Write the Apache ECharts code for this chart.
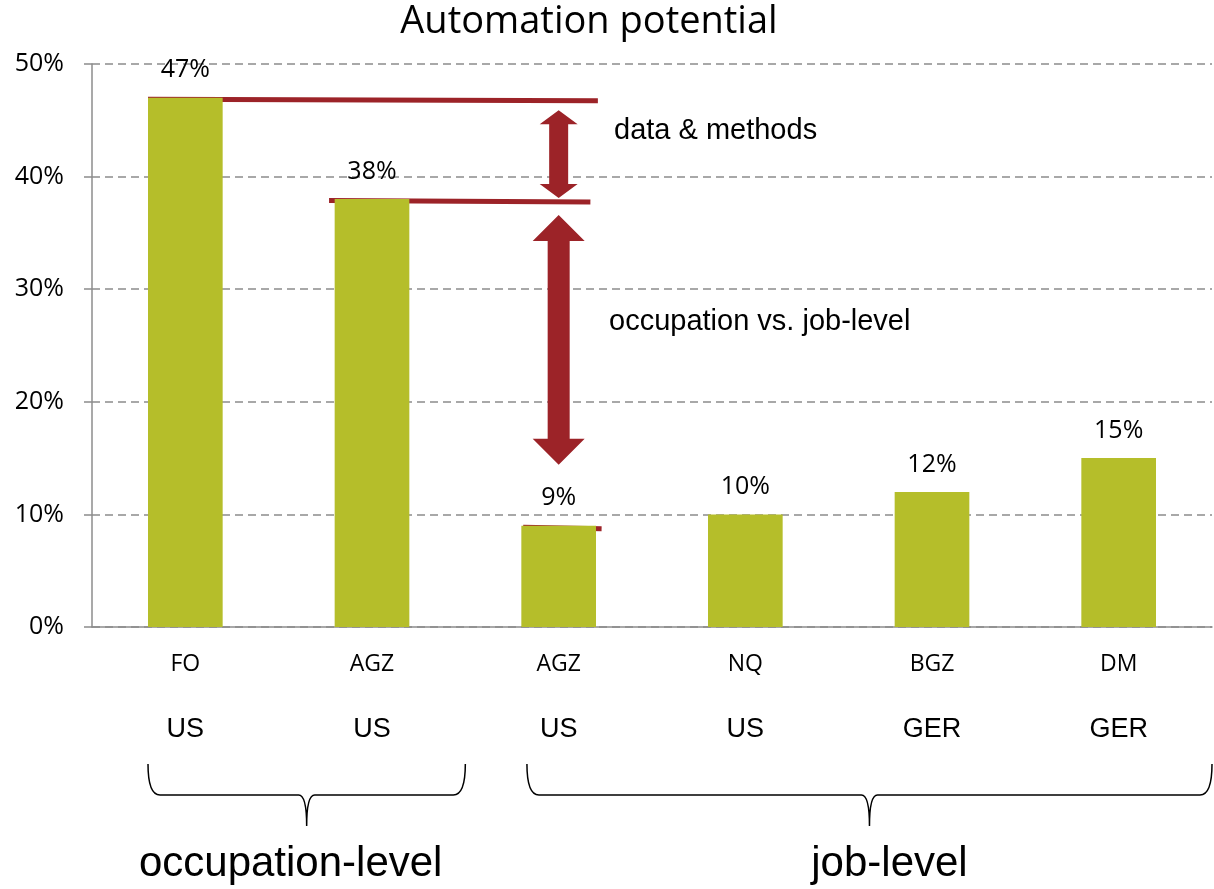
<!DOCTYPE html>
<html>
<head>
<meta charset="utf-8">
<script src="https://cdn.jsdelivr.net/npm/echarts@6/dist/echarts.min.js"></script>
<style>
  html, body { margin: 0; padding: 0; background: #fff; }
  #chart { width: 1214px; height: 889px; }
</style>
</head>
<body>
<div id="chart"></div>
<script>
// data
const codes = ["FO", "AGZ", "AGZ", "NQ", "BGZ", "DM"];
const countries = ["US", "US", "US", "US", "GER", "GER"];
const values = [47, 38, 9, 10, 12, 15];
const yTicks = [0, 10, 20, 30, 40, 50];

// annotations (x on a hidden 0..6 axis, y in %)
const refLines = [[0.3, 2.71, values[0]], [1.27, 2.67, values[1]], [2.31, 2.73, values[2]]];
const arrows = [[2.5, 45.9, 38.1], [2.5, 36.6, 14.4]];
const braces = [[0.3, 2.0, "occupation-level"], [2.33, 6.0, "job-level"]];

const RED = "#9c2328";
const OLIVE = "#b5be2a";
const arrowSize = [
  { head: 14, headHalf: 19, shaft: 9.5 },
  { head: 26, headHalf: 26, shaft: 11 }
];
const braceTextShift = [-16, 20];

const chart = echarts.init(document.getElementById("chart"));

chart.setOption({
  animation: false,
  title: {
    text: "Automation potential",
    left: 584,
    top: -2,
    textAlign: "center",
    textStyle: { fontFamily: "Open Sans", fontSize: 38, fontWeight: "normal", color: "#000" }
  },
  grid: { left: 92, right: 2, top: 64, bottom: 262 },
  xAxis: [
    {
      type: "category",
      data: codes.map((c, i) => c + "\n" + countries[i]),
      axisLine: { lineStyle: { color: "#8c8c8c", width: 1.5 } },
      axisTick: { length: 8, lineStyle: { color: "#8c8c8c", width: 1.5 } },
      axisLabel: {
        margin: 17,
        formatter: function (v) {
          const p = v.split("\n");
          return "{a|" + p[0] + "}\n{b|" + p[1] + "}";
        },
        rich: {
          a: { fontFamily: "Open Sans", fontSize: 23, color: "#000", lineHeight: 40 },
          b: { fontFamily: "Liberation Sans", fontSize: 27, color: "#000", lineHeight: 92 }
        }
      }
    },
    { type: "value", min: 0, max: 6, show: false }
  ],
  yAxis: {
    type: "value",
    min: yTicks[0],
    max: yTicks[yTicks.length - 1],
    interval: yTicks[1] - yTicks[0],
    axisLine: { show: true, lineStyle: { color: "#8c8c8c", width: 1.5 } },
    axisTick: { show: true, length: 8, lineStyle: { color: "#8c8c8c", width: 1.5 } },
    axisLabel: {
      margin: 28,
      formatter: "{value}%",
      fontFamily: "Open Sans",
      fontSize: 25,
      color: "#000"
    },
    splitLine: { lineStyle: { color: "#8c8c8c", width: 1.5, type: [8, 5] } }
  },
  series: [
    {
      type: "bar",
      data: values,
      barWidth: "40%",
      itemStyle: { color: OLIVE },
      label: {
        show: true,
        position: "top",
        distance: 15,
        formatter: "{c}%",
        fontFamily: "Open Sans",
        fontSize: 25,
        color: "#000"
      }
    },
    {
      // red reference lines
      type: "custom",
      xAxisIndex: 1,
      data: refLines,
      renderItem: function (params, api) {
        const a = api.coord([api.value(0), api.value(2)]);
        const b = api.coord([api.value(1), api.value(2)]);
        return {
          type: "line",
          shape: { x1: a[0], y1: a[1] + 1.5, x2: b[0], y2: b[1] + 3 },
          style: { stroke: RED, lineWidth: 5 }
        };
      }
    },
    {
      // double arrows
      type: "custom",
      xAxisIndex: 1,
      data: arrows,
      renderItem: function (params, api) {
        const s = arrowSize[params.dataIndex];
        const t = api.coord([api.value(0), api.value(1)]);
        const b = api.coord([api.value(0), api.value(2)]);
        const cx = t[0], yt = t[1], yb = b[1];
        return {
          type: "polygon",
          shape: {
            points: [
              [cx, yt],
              [cx + s.headHalf, yt + s.head],
              [cx + s.shaft, yt + s.head],
              [cx + s.shaft, yb - s.head],
              [cx + s.headHalf, yb - s.head],
              [cx, yb],
              [cx - s.headHalf, yb - s.head],
              [cx - s.shaft, yb - s.head],
              [cx - s.shaft, yt + s.head],
              [cx - s.headHalf, yt + s.head]
            ]
          },
          style: { fill: RED }
        };
      }
    },
    {
      // braces under the axis
      type: "custom",
      xAxisIndex: 1,
      clip: false,
      data: braces,
      renderItem: function (params, api) {
        const a = api.coord([api.value(0), 0]);
        const b = api.coord([api.value(1), 0]);
        const x1 = a[0], x2 = b[0], y0 = a[1];
        const xm = (x1 + x2) / 2;
        const top = y0 + 137, mid = y0 + 168, tip = y0 + 199;
        const d = "M" + x1 + " " + top +
          " Q" + x1 + " " + mid + " " + (x1 + 12) + " " + mid +
          " L" + (xm - 8) + " " + mid +
          " Q" + xm + " " + mid + " " + xm + " " + tip +
          " Q" + xm + " " + mid + " " + (xm + 8) + " " + mid +
          " L" + (x2 - 12) + " " + mid +
          " Q" + x2 + " " + mid + " " + x2 + " " + top;
        return {
          type: "group",
          children: [
            {
              type: "path",
              shape: { pathData: d },
              style: { stroke: "#000", lineWidth: 1.5, fill: null }
            },
            {
              type: "text",
              style: {
                text: braces[params.dataIndex][2],
                x: xm + braceTextShift[params.dataIndex],
                y: y0 + 237,
                textAlign: "center",
                textVerticalAlign: "middle",
                font: "42px 'Liberation Sans'",
                fill: "#000"
              }
            }
          ]
        };
      }
    }
  ],
  graphic: [
    {
      type: "text",
      left: 614,
      top: 116,
      style: { text: "data & methods", font: "29px 'Liberation Sans'", fill: "#000" }
    },
    {
      type: "text",
      left: 609,
      top: 307,
      style: { text: "occupation vs. job-level", font: "29px 'Liberation Sans'", fill: "#000" }
    }
  ]
});
</script>
</body>
</html>
